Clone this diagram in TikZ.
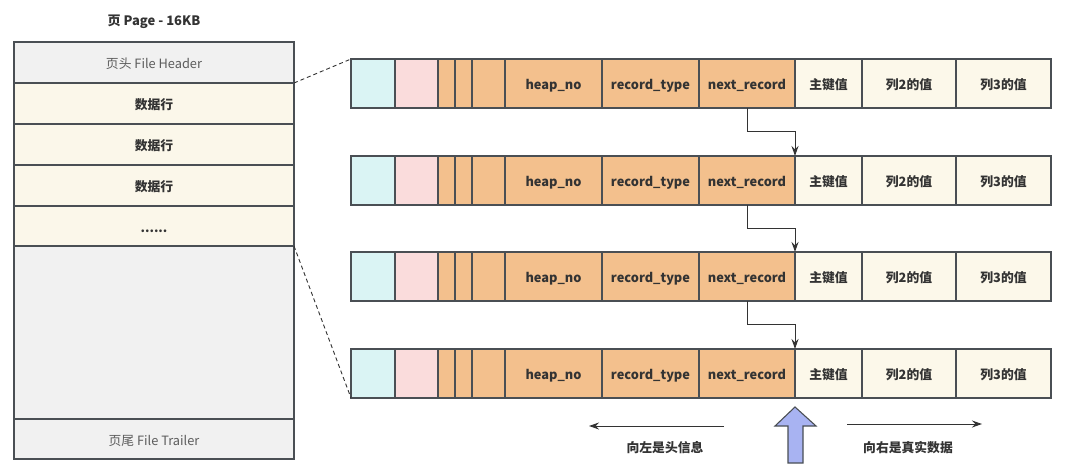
\documentclass[tikz,border=0pt]{standalone}
\usepackage{fontspec}
\setmainfont{Noto Sans CJK SC}
\usetikzlibrary{arrows.meta,calc}
\definecolor{edge}{HTML}{4A4F54}
\definecolor{ink}{HTML}{333333}
\definecolor{pagegray}{HTML}{F1F1F1}
\definecolor{rowcream}{HTML}{FBF7EA}
\definecolor{hdrcyan}{HTML}{DAF4F4}
\definecolor{hdrpink}{HTML}{FADCDC}
\definecolor{hdrorange}{HTML}{F3C08D}
\definecolor{valcream}{HTML}{FCF8EA}
\definecolor{upblue}{HTML}{A8B3F2}
\tikzset{
  box/.style={draw=edge, line width=1.2pt, inner sep=0pt, outer sep=0pt, anchor=north west,
    font=\fontsize{12.8}{14}\selectfont, text=ink, text height=13pt, text depth=1pt},
  graybox/.style={box, fill=pagegray, text=ink!80},
  creambox/.style={box, fill=rowcream, font=\fontsize{12.8}{14}\selectfont\bfseries},
  cyan/.style={box, fill=hdrcyan},
  pink/.style={box, fill=hdrpink},
  orange/.style={box, fill=hdrorange, font=\fontsize{12.8}{14}\selectfont\bfseries},
  value/.style={box, fill=valcream, font=\fontsize{12.8}{14}\selectfont\bfseries},
  link/.style={draw=ink, line width=1pt, -{Stealth[length=10pt,width=7pt]}},
  zoomline/.style={draw=ink, line width=0.9pt, dash pattern=on 4pt off 3pt},
  hint/.style={font=\fontsize{12.8}{14}\selectfont\bfseries, text=ink},
}
\begin{document}
\begin{tikzpicture}[x=1pt,y=-1pt]
\useasboundingbox (0,0) rectangle (1083,473);

% page layout on the left
\node[font=\fontsize{13}{15}\selectfont\bfseries, text=ink] (title) at (154,22) {页 Page - 16KB};
\node[graybox, minimum width=280pt, minimum height=41pt] (hdr) at (14,42) {页头 File Header};
\node[creambox, minimum width=280pt, minimum height=41pt] (row1) at (14,83) {数据行};
\node[creambox, minimum width=280pt, minimum height=41pt] (row2) at (14,124) {数据行};
\node[creambox, minimum width=280pt, minimum height=41pt] (row3) at (14,165) {数据行};
\node[creambox, minimum width=280pt, minimum height=40pt] (dots) at (14,206) {......};
\node[graybox, minimum width=280pt, minimum height=173pt] (free) at (14,246) {};
\node[graybox, minimum width=280pt, minimum height=40pt] (trl) at (14,419) {页尾 File Trailer};

% four records, each a strip of cells
\foreach \r/\y in {1/59,2/156,3/252,4/349}{
  \foreach \i/\a/\b/\s/\t in {
      1/351/395/cyan/{},
      2/395/438/pink/{},
      3/438/455/orange/{},
      4/455/472/orange/{},
      5/472/505/orange/{},
      6/505/602/orange/{heap\_no},
      7/602/699/orange/{record\_type},
      8/699/795/orange/{next\_record},
      9/795/862/value/{主键值},
      10/862/956/value/{列2的值},
      11/956/1051/value/{列3的值}}{
    \node[\s, minimum width={(\b-\a)*1pt}, minimum height=49pt] (n\r-\i) at (\a,\y) {\t};
  }
}

% next_record pointers
\foreach \r/\s in {1/2,2/3,3/4}{
  \draw[link] (n\r-8.south) -- ++(0,23.5) -| (n\s-9.north west);
}

% zoom lines from the page to the records
\draw[zoomline] (hdr.south east) -- (n1-1.north west);
\draw[zoomline] (dots.south east) -- (n4-1.south west);

% reading directions
\coordinate (lfrom) at (724,426);
\coordinate (lto) at (589,426);
\coordinate (rfrom) at (847,424);
\coordinate (rto) at (982,424);
\draw[link] (lfrom) -- (lto);
\draw[link] (rfrom) -- (rto);
\node[hint] (lhint) at (665,448) {向左是头信息};
\node[hint] (rhint) at (908,448) {向右是真实数据};

% origin marker under the record boundary
\draw[draw=edge, fill=upblue, line width=1.1pt, line join=miter]
  (795,407) -- (816,426) -- (803,426) -- (803,463) -- (788,463) -- (788,426) -- (775,426) -- cycle;
\end{tikzpicture}
\end{document}
